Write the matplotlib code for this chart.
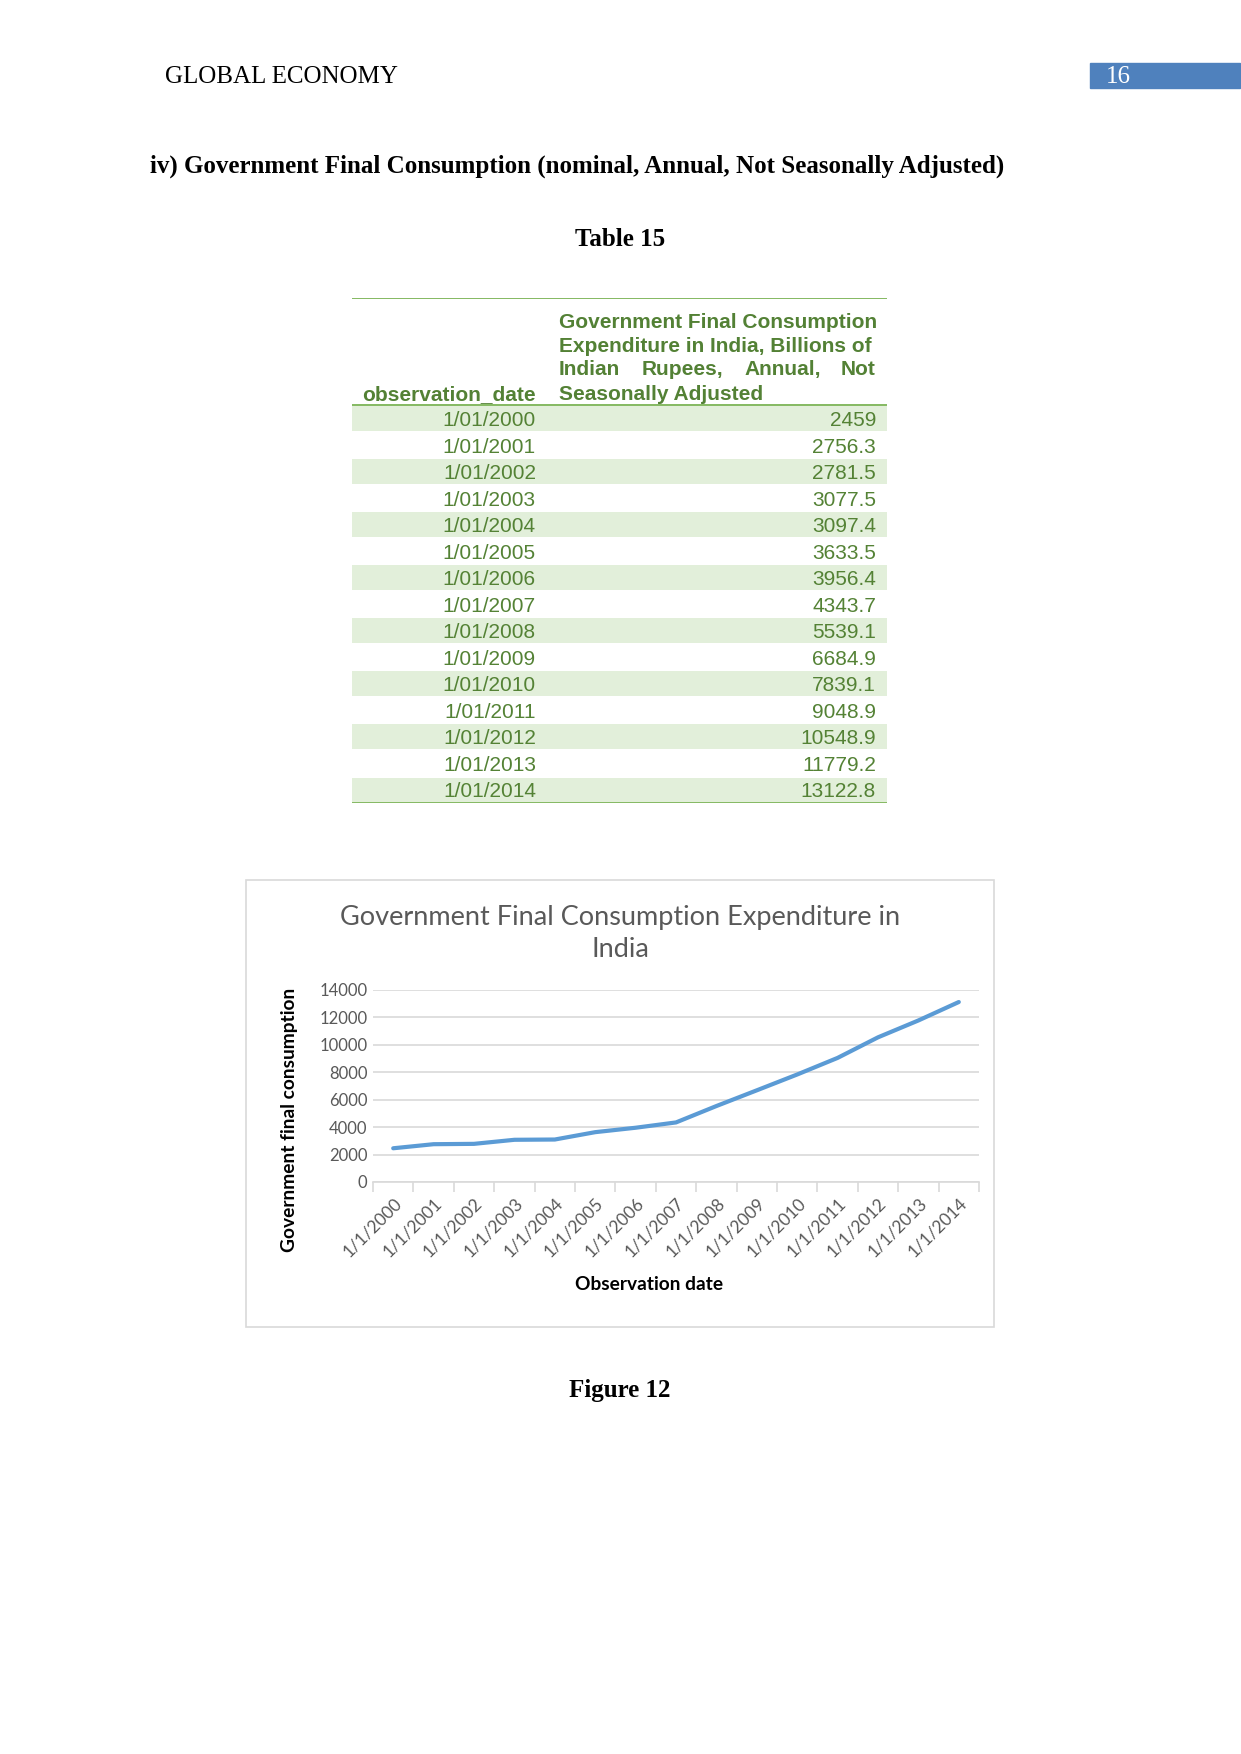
import matplotlib
matplotlib.use("Agg")
import matplotlib.pyplot as plt
from matplotlib.patches import Rectangle

# data read from the page
obs_dates = ["1/01/2000", "1/01/2001", "1/01/2002", "1/01/2003", "1/01/2004",
             "1/01/2005", "1/01/2006", "1/01/2007", "1/01/2008", "1/01/2009",
             "1/01/2010", "1/01/2011", "1/01/2012", "1/01/2013", "1/01/2014"]
gfce = [2459, 2756.3, 2781.5, 3077.5, 3097.4, 3633.5, 3956.4, 4343.7,
        5539.1, 6684.9, 7839.1, 9048.9, 10548.9, 11779.2, 13122.8]
chart_labels = ["1/1/2000", "1/1/2001", "1/1/2002", "1/1/2003", "1/1/2004",
                "1/1/2005", "1/1/2006", "1/1/2007", "1/1/2008", "1/1/2009",
                "1/1/2010", "1/1/2011", "1/1/2012", "1/1/2013", "1/1/2014"]
y_ticks = [0, 2000, 4000, 6000, 8000, 10000, 12000, 14000]

W, H = 1241, 1754
fig = plt.figure(figsize=(W / 100, H / 100), dpi=100)


def fx(x):
    return x / W


def fy(y):
    return 1 - y / H


serif = "Liberation Serif"
sans = "Liberation Sans"

# ==========================
# PAGE HEADER
# ==========================
fig.text(fx(165), fy(77), "GLOBAL ECONOMY", family=serif, fontsize=18,
         va="center", ha="left")
fig.patches.append(Rectangle((fx(1090), fy(88)), fx(150), 25 / H,
                             transform=fig.transFigure, color="#4F81BD"))
fig.text(fx(1106), fy(77), "16", family=serif, fontsize=18, color="white",
         va="center", ha="left")

fig.text(fx(150), fy(166),
         "iv) Government Final Consumption (nominal, Annual, Not Seasonally Adjusted)",
         family=serif, fontsize=18, weight="bold", va="center", ha="left")
fig.text(fx(620), fy(240), "Table 15", family=serif, fontsize=18,
         weight="bold", va="center", ha="center")

# ==========================
# TABLE
# ==========================
row_h = 26.5
hdr = 107 / row_h
tab = fig.add_axes([fx(352), fy(803), fx(887 - 352), 505 / H])
tab.set_xlim(352, 887)
tab.set_ylim(len(gfce), -hdr)
tab.axis("off")

green_dark = "#538135"
green_txt = "#548235"
green_line = "#70AD47"
shade = "#E2EFDA"

for i, (d, v) in enumerate(zip(obs_dates, gfce)):
    if i % 2 == 0:
        tab.add_patch(Rectangle((352, i + 0.04), 535, 0.92, color=shade, lw=0))
    tab.text(536, i + 0.58, d, family=sans, fontsize=15, color=green_txt,
             ha="right", va="center")
    tab.text(876, i + 0.58, f"{v:g}", family=sans, fontsize=15, color=green_txt,
             ha="right", va="center")

tab.plot([352, 887], [-hdr, -hdr], color=green_line, lw=1.2)
tab.plot([352, 887], [0, 0], color=green_line, lw=1.2)
tab.plot([352, 887], [len(gfce), len(gfce)], color=green_line, lw=1.2)

hk = dict(family=sans, fontsize=15, weight="bold", color=green_dark, va="center")
tab.text(559, (322 - 405) / row_h, "Government Final Consumption", ha="left", **hk)
tab.text(559, (346 - 405) / row_h, "Expenditure in India, Billions of", ha="left", **hk)
tab.text(559, (369 - 405) / row_h, "Indian", ha="left", **hk)
tab.text(642, (369 - 405) / row_h, "Rupees,", ha="left", **hk)
tab.text(744, (369 - 405) / row_h, "Annual,", ha="left", **hk)
tab.text(876, (369 - 405) / row_h, "Not", ha="right", **hk)
tab.text(559, (394 - 405) / row_h, "Seasonally Adjusted", ha="left", **hk)
tab.text(536, (394 - 405) / row_h, "observation_date", ha="right", **hk)

# ==========================
# CHART
# ==========================
fig.patches.append(Rectangle((fx(246), fy(1327)), fx(994 - 246), (1327 - 880) / H,
                             transform=fig.transFigure, fill=False,
                             edgecolor="#D9D9D9", lw=1.2))

chart_font = "Lato"
grey = "#595959"
fig.text(fx(620), fy(918), "Government Final Consumption Expenditure in",
         family=chart_font, fontsize=19.5, color=grey, ha="center", va="center")
fig.text(fx(620), fy(949), "India", family=chart_font, fontsize=19.5,
         color=grey, ha="center", va="center")

ax = fig.add_axes([fx(373), fy(1182), fx(979 - 373), (1182 - 990) / H])
x = list(range(len(gfce)))
ax.plot(x, gfce, color="#5B9BD5", lw=3, solid_capstyle="round", zorder=3)
ax.set_xlim(-0.5, len(gfce) - 0.5)
ax.set_ylim(0, 14000)
ax.set_yticks(y_ticks)
ax.set_yticklabels([str(t) for t in y_ticks], family=chart_font,
                   fontsize=12, color=grey)
ax.grid(axis="y", color="#D9D9D9", lw=1.2)
ax.set_axisbelow(True)
for s in ["top", "right", "left"]:
    ax.spines[s].set_visible(False)
ax.spines["bottom"].set_color("#D9D9D9")
ax.spines["bottom"].set_linewidth(1.2)
ax.tick_params(axis="y", length=0, pad=4)

# category boundaries as tick marks, labels at centres
ax.set_xticks([i - 0.5 for i in range(len(gfce) + 1)])
ax.set_xticklabels([])
ax.tick_params(axis="x", which="major", length=7, color="#D9D9D9", width=1.2)
ax.set_xticks(x, minor=True)
ax.set_xticklabels(chart_labels, minor=True, rotation=45, ha="right",
                   rotation_mode="anchor", family=chart_font, fontsize=12.5,
                   color=grey)
ax.tick_params(axis="x", which="minor", length=0, pad=9)

fig.text(fx(649), fy(1285), "Observation date", family=chart_font,
         fontsize=13.8, weight="bold", ha="center", va="center")
fig.text(fx(289), fy(1120), "Government final consumption", family=chart_font,
         fontsize=13.8, weight="bold", rotation=90, ha="center", va="center")

fig.text(fx(620), fy(1390), "Figure 12", family=serif, fontsize=18,
         weight="bold", ha="center", va="center")

fig.savefig("out.png", dpi=100, facecolor="white")
